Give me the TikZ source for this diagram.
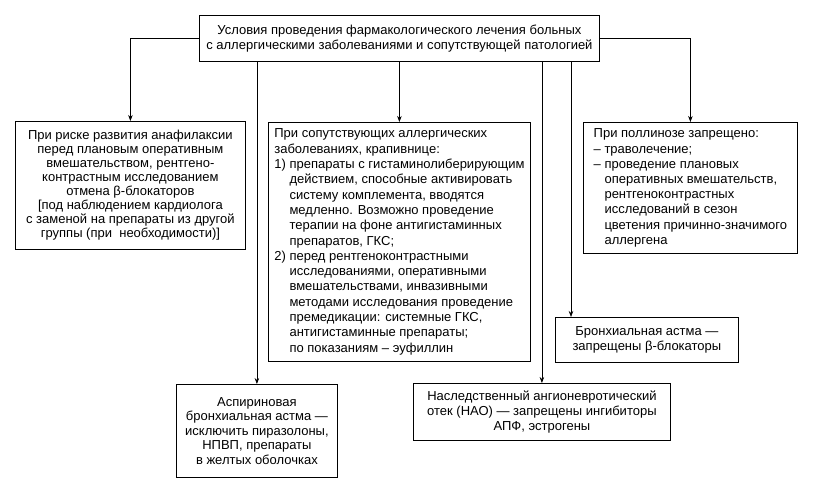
\documentclass[tikz,border=0pt]{standalone}
\usepackage{fontspec}
\setmainfont{Liberation Sans}
\usetikzlibrary{arrows.meta,calc}
\begin{document}
\begin{tikzpicture}[x=1pt,y=-1pt,
  box/.style={draw, line width=0.8pt, anchor=north west, inner sep=0pt,
    font=\fontsize{13}{#1}\selectfont},
  box/.default=14.6,
  arr/.style={line width=0.7pt, -{Stealth[length=6pt,width=4.5pt]}}]
\useasboundingbox[fill=white] (0,0) rectangle (826,495);

\node[box=15, minimum width=400, minimum height=46, align=center] (main) at (199,15)
  {Условия проведения фармакологического лечения больных\\
   с аллергическими заболеваниями и сопутствующей патологией};

\node[box=14, minimum width=230, minimum height=128, align=center] (left) at (15,121)
  {При риске развития анафилаксии\\
   перед плановым оперативным\\
   вмешательством, рентгено-\\
   контрастным исследованием\\
   отмена β-блокаторов\\
   {[}под наблюдением кардиолога\\
   с заменой на препараты из другой\\
   группы (при\ \ необходимости){]}};

\node[box=15.3, minimum width=262, minimum height=239, align=left] (mid) at (268,122)
  {При сопутствующих аллергических\\
   заболеваниях, крапивнице:\\
   1) препараты с гистаминолиберирующим\\
   \phantom{1) }действием, способные активировать\\
   \phantom{1) }систему комплемента, вводятся\\
   \phantom{1) }медленно. Возможно проведение\\
   \phantom{1) }терапии на фоне антигистаминных\\
   \phantom{1) }препаратов, ГКС;\\
   2) перед рентгеноконтрастными\\
   \phantom{2) }исследованиями, оперативными\\
   \phantom{2) }вмешательствами, инвазивными\\
   \phantom{2) }методами исследования проведение\\
   \phantom{2) }премедикации: системные ГКС,\\
   \phantom{2) }антигистаминные препараты;\\
   \phantom{2) }по показаниям – эуфиллин};

\node[box=15.2, minimum width=214, minimum height=131, align=left] (poll) at (583,122)
  {При поллинозе запрещено:\\
   – траволечение;\\
   – проведение плановых\\
   \phantom{– }оперативных вмешательств,\\
   \phantom{– }рентгеноконтрастных\\
   \phantom{– }исследований в сезон\\
   \phantom{– }цветения причинно-значимого\\
   \phantom{– }аллергена};

\node[box=15, minimum width=183, minimum height=45, align=center] (ba) at (555,317)
  {Бронхиальная астма —\\
   запрещены β-блокаторы};

\node[box=14.6, minimum width=161, minimum height=93, align=center] (asp) at (176,384)
  {Аспириновая\\
   бронхиальная астма —\\
   исключить пиразолоны,\\
   НПВП, препараты\\
   в желтых оболочках};

\node[box=14.7, minimum width=257, minimum height=57, align=center] (nao) at (413,383)
  {Наследственный ангионевротический\\
   отек (НАО) — запрещены ингибиторы\\
   АПФ, эстрогены};

\coordinate (baentry) at ($(ba.north west)+(16,0)$);

\draw[arr] (main.west) -| (left.north);
\draw[arr] (main.east) -| (poll.north);
\draw[arr] (main.south -| mid.north) -- (mid.north);
\draw[arr] (main.south -| asp.north) -- (asp.north);
\draw[arr] (main.south -| nao.north) -- (nao.north);
\draw[arr] (main.south -| baentry) -- (baentry);
\end{tikzpicture}
\end{document}
